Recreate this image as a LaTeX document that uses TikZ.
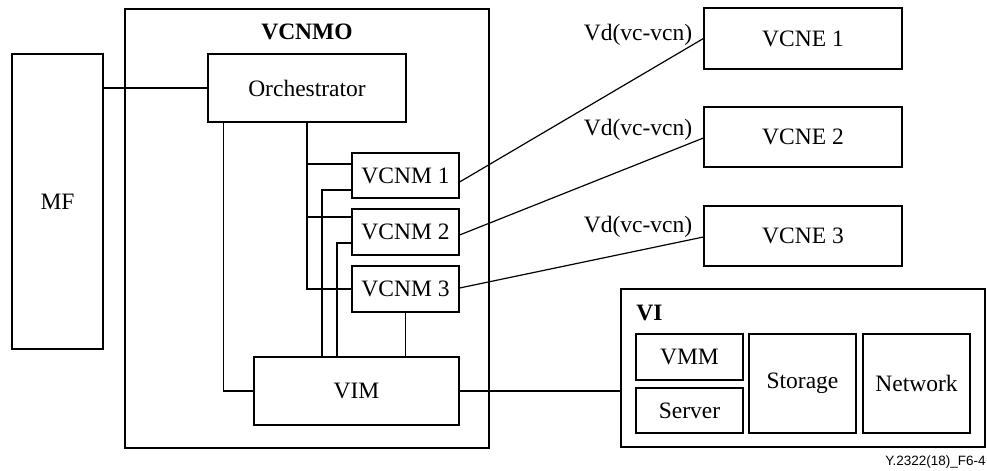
\documentclass[tikz,border=0pt]{standalone}
\usepackage{fontspec}
\setmainfont{Liberation Serif}
\newfontfamily\figsans{Liberation Sans}
\usetikzlibrary{calc}
\tikzset{
  box/.style={draw, line width=0.6pt, rectangle, inner sep=0pt, fill=none},
  conn/.style={draw, line width=0.6pt},
  txt/.style={inner sep=0pt, font=\fontsize{11.75}{14}\selectfont},
}
\begin{document}
\begin{tikzpicture}[x=0.5pt, y=-0.5pt]
  \useasboundingbox[fill=white] (0,0) rectangle (987,471);

  % management function and the VCNMO frame
  \node[box, minimum width=45.5pt, minimum height=147.5pt] (MF) at (57.5,201.5) {};
  \node[txt] (MFt) at (MF.center) {MF};
  \node[box, minimum width=182pt, minimum height=219.5pt] (VCNMO) at (307,228.5) {};
  \node[txt, font=\fontsize{11.75}{14}\selectfont\bfseries] (VCNMOt) at (307,32) {VCNMO};

  % boxes inside VCNMO
  \node[box, txt, minimum width=99pt, minimum height=34pt] (Orch) at (307,88) {Orchestrator};
  \node[box, txt, minimum width=53.5pt, minimum height=22.5pt] (VCNM1) at (405.5,175.5) {VCNM 1};
  \node[box, txt, minimum width=53.5pt, minimum height=23pt] (VCNM2) at (405.5,232) {VCNM 2};
  \node[box, txt, minimum width=53.5pt, minimum height=23pt] (VCNM3) at (405.5,289) {VCNM 3};
  \node[box, txt, minimum width=102.5pt, minimum height=34pt] (VIM) at (356.5,391) {VIM};

  % network elements
  \node[box, txt, minimum width=99pt, minimum height=30.5pt] (VCNE1) at (803,38.5) {VCNE 1};
  \node[box, txt, minimum width=99pt, minimum height=30pt] (VCNE2) at (803,137) {VCNE 2};
  \node[box, txt, minimum width=99pt, minimum height=30pt] (VCNE3) at (803,236) {VCNE 3};

  % virtualised infrastructure
  \node[box, minimum width=182pt, minimum height=79pt] (VI) at (803,368) {};
  \node[txt, anchor=west, font=\fontsize{11.75}{14}\selectfont\bfseries] (VIt) at (636,313) {VI};
  \node[box, txt, minimum width=53.5pt, minimum height=23pt] (VMM) at (689.5,357) {VMM};
  \node[box, txt, minimum width=53.5pt, minimum height=22.5pt] (Server) at (689.5,410.5) {Server};
  \node[box, txt, minimum width=53.5pt, minimum height=49.5pt] (Storage) at (802.5,383.5) {Storage};
  \node[box, txt, minimum width=53.5pt, minimum height=49.5pt] (Network) at (916.5,383.5) {Network};

  % interface labels
  \node[txt] (Vd1) at (638,35) {Vd(vc-vcn)};
  \node[txt] (Vd2) at (638,130) {Vd(vc-vcn)};
  \node[txt] (Vd3) at (638,227) {Vd(vc-vcn)};

  % figure reference
  \node[inner sep=0pt, anchor=east, font=\figsans\fontsize{6.75}{8}\selectfont] (ref) at (986,462) {Y.2322(18)\_F6-4};

  % MF to orchestrator
  \draw[conn] (Orch.west) -- (Orch.west -| MF.east);

  % orchestrator to the VCNMs
  \coordinate (o1) at ([yshift=5.75pt]VCNM1.west);
  \coordinate (o2) at ([yshift=7.5pt]VCNM2.west);
  \draw[conn] (Orch.south) -- (Orch.south |- VCNM3.west) -- (VCNM3.west);
  \draw[conn] (Orch.south |- o1) -- (o1);
  \draw[conn] (Orch.south |- o2) -- (o2);

  % orchestrator to VIM
  \coordinate (ol) at ($(Orch.south west)+(16,0)$);
  \draw[conn] (ol) -- (ol |- VIM.west) -- (VIM.west);

  % VCNMs to VIM
  \coordinate (m1) at ([yshift=-7.25pt]VCNM1.west);
  \coordinate (m2) at ([yshift=-5.5pt]VCNM2.west);
  \coordinate (c1) at (322,0);
  \coordinate (c2) at (337,0);
  \draw[conn] (m1) -- (m1 -| c1) -- (c1 |- VIM.north);
  \draw[conn] (m2) -- (m2 -| c2) -- (c2 |- VIM.north);
  \draw[conn] (VCNM3.south) -- (VCNM3.south |- VIM.north);

  % VIM to VI
  \draw[conn] (VIM.east) -- (VIM.east -| VI.west);

  % VCNMs to VCNEs
  \draw[conn] ([yshift=-3.25pt]VCNM1.east) -- (VCNE1.west);
  \draw[conn] ([yshift=-1.5pt]VCNM2.east) -- ([yshift=-0.5pt]VCNE2.west);
  \draw[conn] ([yshift=0.5pt]VCNM3.east) -- ([yshift=-0.5pt]VCNE3.west);
\end{tikzpicture}
\end{document}
